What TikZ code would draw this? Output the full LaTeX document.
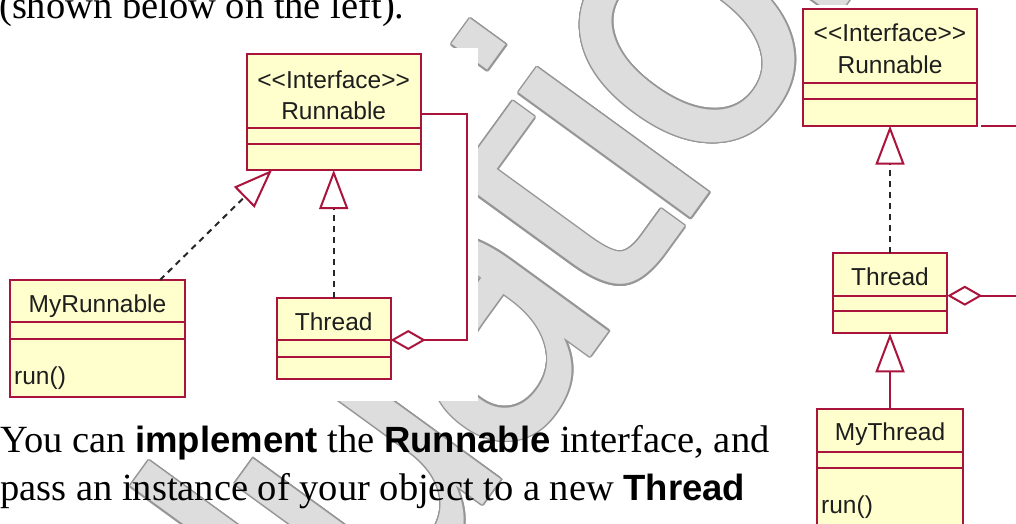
\documentclass[tikz,border=0pt]{standalone}
\usepackage{fontspec}
\setmainfont{Liberation Serif}
\newfontfamily\umlfont{Liberation Sans}
\newfontfamily\keyfont{Liberation Sans}
\newfontfamily\wmfont[LetterSpace=-8]{DejaVu Sans Condensed}
\usetikzlibrary{arrows.meta}

\definecolor{umlred}{RGB}{170,20,60}
\definecolor{umlfill}{RGB}{255,255,206}
\definecolor{umltext}{RGB}{30,30,30}
\definecolor{wmfill}{RGB}{221,221,221}
\definecolor{wmedge}{RGB}{150,150,150}

\newcommand{\kw}[1]{{\keyfont\bfseries\fontsize{36.5}{46}\selectfont #1}}

\begin{document}
\begin{tikzpicture}[x=1pt,y=-1pt,
    classbox/.style={draw=umlred, fill=umlfill, line width=2pt, inner sep=0pt, outer sep=0pt},
    divider/.style={draw=umlred, line width=2pt},
    classname/.style={font=\umlfont\fontsize{24.5}{28}\selectfont, text=umltext, inner sep=0pt, anchor=base},
    opname/.style={font=\umlfont\fontsize{24.5}{28}\selectfont, text=umltext, inner sep=0pt, anchor=base west},
    realize/.style={draw=black!85, line width=2pt, dash pattern=on 6pt off 5pt,
        -{Triangle[length=39pt, width=29pt, color=umlred, fill=white, line width=2pt]}},
    generalize/.style={draw=umlred, line width=2pt,
        -{Triangle[length=39pt, width=29pt, color=umlred, fill=white, line width=2pt]}},
    aggregate/.style={draw=umlred, line width=2pt,
        -{Diamond[length=35pt, width=20pt, color=umlred, fill=white, line width=2pt]}},
    bodytext/.style={anchor=base west, inner sep=0pt, font=\fontsize{38.5}{46}\selectfont},
    wmark/.style={anchor=base west, inner sep=0pt, rotate=54, font=\wmfont\fontsize{389}{389}\selectfont}]

    \useasboundingbox (0,0) rectangle (1016,523);
    \clip (0,0) rectangle (1016,523);

    % watermark
    \foreach \ang in {0,22.5,...,337.5}
        \node[wmark, text=wmedge, shift={(\ang:1.5)}] at (28,1131) {Evaluation};
    \node[wmark, text=wmfill] (wm) at (28,1131) {Evaluation};

    % the two screenshots
    \fill[white] (0,48) rectangle (478,401);
    \fill[white] (800,5) rectangle (1016,523);

    % left diagram
    \node[classbox, minimum width=174pt, minimum height=116pt] (run1) at (333.7,112) {};
    \draw[divider] (246.7,128.3) -- (420.7,128.3);
    \draw[divider] (246.7,144.3) -- (420.7,144.3);
    \node[classname] at (333.7,88) {<<Interface>>};
    \node[classname] at (333.7,119) {Runnable};

    \node[classbox, minimum width=114pt, minimum height=81pt] (thr1) at (333.7,338.8) {};
    \draw[divider] (276.7,340) -- (390.7,340);
    \draw[divider] (276.7,356.7) -- (390.7,356.7);
    \node[classname] at (333.7,330.5) {Thread};

    \node[classbox, minimum width=175pt, minimum height=116.7pt] (myrun) at (97.5,338.3) {};
    \draw[divider] (10,322.3) -- (185,322.3);
    \draw[divider] (10,339) -- (185,339);
    \node[classname] at (97.5,312) {MyRunnable};
    \node[opname] at (14,384) {run()};

    \draw[realize] ([xshift=-25pt]myrun.north east) -- ([xshift=25.3pt]run1.south west);
    \draw[realize] (thr1.north) -- (run1.south);
    \draw[aggregate] ([yshift=-2pt]run1.east) -- ++(46,0) |- ([yshift=-41.7pt]thr1.north east);

    % right diagram
    \node[classbox, minimum width=174.6pt, minimum height=116.4pt] (run2) at (890,67.5) {};
    \draw[divider] (802.7,83.3) -- (977.3,83.3);
    \draw[divider] (802.7,99) -- (977.3,99);
    \node[classname] at (890,41) {<<Interface>>};
    \node[classname] at (890,73.8) {Runnable};

    \node[classbox, minimum width=114.6pt, minimum height=80pt] (thr2) at (890,293.3) {};
    \draw[divider] (832.7,295.7) -- (947.3,295.7);
    \draw[divider] (832.7,311) -- (947.3,311);
    \node[classname] at (890,285.5) {Thread};

    \node[classbox, minimum width=146.6pt, minimum height=116.7pt] (mythr) at (890,467.7) {};
    \draw[divider] (816.7,451.7) -- (963.3,451.7);
    \draw[divider] (816.7,467.7) -- (963.3,467.7);
    \node[classname] at (890,440.5) {MyThread};
    \node[opname] at (821,513.5) {run()};

    \draw[realize] (thr2.north) -- (run2.south);
    \draw[generalize] (mythr.north) -- (thr2.south);
    \draw[aggregate] ([xshift=4pt]run2.south east) -- ++(70,0) |- ([yshift=-42.4pt]thr2.north east);

    % text of the page
    \node[bodytext] (intro) at (-1,18.5) {(shown below on the left).};
    \node[bodytext] (line1) at (0,452.7) {You can \kw{implement} the \kw{Runnable} interface, and};
    \node[bodytext] (line2) at (0,500) {pass an instance of your object to a new \kw{Thread}};
\end{tikzpicture}
\end{document}
